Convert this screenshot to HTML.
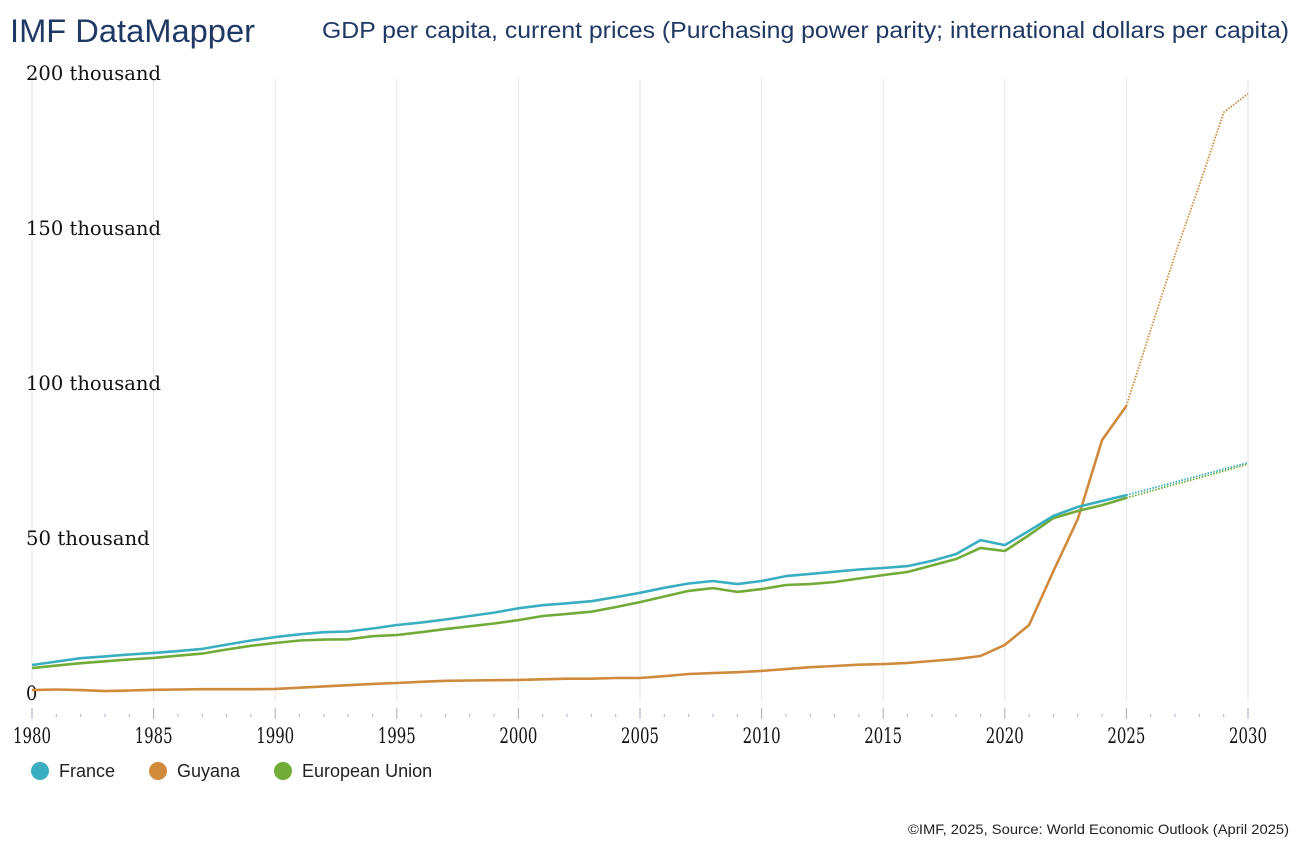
<!DOCTYPE html>
<html><head><meta charset="utf-8"><style>
html,body{margin:0;padding:0;background:#fff;}
svg{display:block;}
</style></head><body>
<svg id="chart" width="1299" height="848" xmlns="http://www.w3.org/2000/svg">
<text x="10" y="42" font-family="Liberation Sans, sans-serif" font-size="32" fill="#1f3864" textLength="245" lengthAdjust="spacingAndGlyphs">IMF DataMapper</text>
<text x="322" y="38" font-family="Liberation Sans, sans-serif" font-size="23.5" fill="#1f3864" textLength="967" lengthAdjust="spacingAndGlyphs">GDP per capita, current prices (Purchasing power parity; international dollars per capita)</text>
<g id="grid"></g>
<g id="yaxis"></g>
<g id="xaxis"></g>
<g id="series"></g>
<g id="legend"></g>
<text x="1289" y="834" text-anchor="end" font-family="Liberation Sans, sans-serif" font-size="14" fill="#222" textLength="381" lengthAdjust="spacingAndGlyphs">©IMF, 2025, Source: World Economic Outlook (April 2025)</text>
</svg>
<script>
const years = [1980,1981,1982,1983,1984,1985,1986,1987,1988,1989,1990,1991,1992,1993,1994,1995,1996,1997,1998,1999,2000,2001,2002,2003,2004,2005,2006,2007,2008,2009,2010,2011,2012,2013,2014,2015,2016,2017,2018,2019,2020,2021,2022,2023,2024,2025,2026,2027,2028,2029,2030];
const france = [8.7,9.8,10.9,11.5,12.1,12.6,13.2,13.9,15.3,16.6,17.7,18.6,19.3,19.5,20.5,21.6,22.4,23.4,24.5,25.6,27,28,28.6,29.3,30.6,32,33.6,35,35.8,34.8,35.8,37.4,38.1,38.8,39.5,40,40.6,42.3,44.5,49,47.4,52,56.8,59.7,61.6,63.5,65.6,67.7,69.8,71.9,74];
const guyana = [0.6,0.8,0.6,0.3,0.5,0.7,0.8,0.9,0.9,0.9,1.0,1.4,1.8,2.2,2.6,2.9,3.3,3.6,3.7,3.8,3.9,4.1,4.3,4.3,4.5,4.5,5.1,5.8,6.1,6.4,6.8,7.4,8.0,8.4,8.8,9.0,9.4,10.0,10.6,11.6,15.2,21.6,39,55.8,81.3,92.3,116.8,141,163.5,187,193];
const eu = [7.7,8.5,9.3,9.9,10.5,11,11.7,12.4,13.7,14.9,15.8,16.6,16.9,17,18,18.4,19.3,20.3,21.2,22.1,23.2,24.5,25.2,25.9,27.4,29,30.8,32.6,33.5,32.3,33.2,34.5,34.8,35.5,36.6,37.7,38.7,40.8,42.9,46.5,45.5,50.6,56.1,58.4,60.3,62.6,64.8,67,69.1,71.3,73.5];
const yTicks = [0,50,100,150,200];
const yTickLabels = ["0","50 thousand","100 thousand","150 thousand","200 thousand"];
const xTickYears = [1980,1985,1990,1995,2000,2005,2010,2015,2020,2025,2030];
const lastActual = 2025;

const NS = "http://www.w3.org/2000/svg";
const x = yr => 32 + (yr - 1980) * (1216 / 50);
const y = v => 692 - v * 3.1;
function mk(tag, attrs, parent){const e=document.createElementNS(NS,tag);for(const k in attrs)e.setAttribute(k,attrs[k]);parent.appendChild(e);return e;}

const grid=document.getElementById('grid'), ya=document.getElementById('yaxis'), xa=document.getElementById('xaxis');
xTickYears.forEach(yr=>{
  const l=mk('line',{x1:x(yr),x2:x(yr),y1:79,y2:700,stroke:'#e4e4e8','stroke-width':1},grid);
  
  
});
years.forEach(yr=>{
  const major = yr%5===0;
  const t=mk('line',{x1:x(yr),x2:x(yr),y1:major?708:714,y2:major?719:717,stroke:major?'#a8a8c0':'#b0b0c8','stroke-width':1},xa);
  
  
});
xTickYears.forEach(yr=>{
  const t=mk('text',{x:x(yr),y:743,'text-anchor':'middle','font-family':'DejaVu Serif, serif','font-size':21,fill:'#111',textLength:38,lengthAdjust:'spacingAndGlyphs'},xa);
  t.textContent=yr;
  
  
});
yTicks.forEach((v,i)=>{
  const lab=yTickLabels[i];
  const t=mk('text',{x:26,y:y(v)+8,'font-family':'DejaVu Serif, serif','font-size':20,fill:'#111',textLength:(lab.length*11.25).toFixed(1),lengthAdjust:'spacingAndGlyphs'},ya);
  t.textContent=lab;
  
  
});

const ser=document.getElementById('series');
function draw(name,vals,color){
  const act=[],proj=[];
  years.forEach((yr,i)=>{const p=x(yr).toFixed(1)+','+y(vals[i]).toFixed(1);if(yr<=lastActual)act.push(p);if(yr>=lastActual)proj.push(p);});
  const a=mk('polyline',{points:act.join(' '),fill:'none',stroke:color,'stroke-width':2.6,'stroke-linejoin':'round'},ser);
  
  
  const p=mk('polyline',{points:proj.join(' '),fill:'none',stroke:color,'stroke-width':1.8,'stroke-dasharray':'1.5,1.5'},ser);
  
  
}
draw('guyana',guyana,'#d08a3c');
draw('eu',eu,'#72ab37');
draw('france',france,'#3aaec1');

const lg=document.getElementById('legend');
[['France','#3aaec1',40,'legend-france'],['Guyana','#d08a3c',158,'legend-guyana'],['European Union','#72ab37',283,'legend-european-union']].forEach(d=>{
  const g=mk('g',{},lg);
  
  
  mk('circle',{cx:d[2],cy:771,r:9,fill:d[1]},g);
  const t=mk('text',{x:d[2]+19,y:777,'font-family':'Liberation Sans, sans-serif','font-size':18,fill:'#222'},g);
  t.textContent=d[0];
});
</script>
</body></html>
